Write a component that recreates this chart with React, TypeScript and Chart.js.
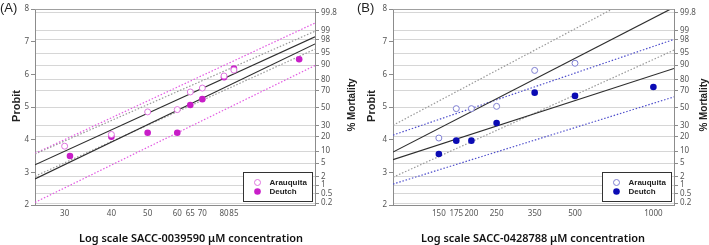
import React, { useEffect, useRef } from "react";
import { Chart, registerables } from "chart.js";

Chart.register(...registerables);

// ---------- Shared right-axis (% Mortality) ticks ----------
const mortLabels = ["99.8", "99", "98", "95", "90", "80", "70", "50", "30", "20", "10", "5", "2", "1", "0.5", "0.2"];
const mortProbit = [7.88, 7.34, 7.07, 6.65, 6.28, 5.84, 5.51, 4.97, 4.43, 4.1, 3.65, 3.28, 2.87, 2.61, 2.35, 2.06];
const probitTicks = [2, 3, 4, 5, 6, 7, 8];

// ---------- Panel A: SACC-0039590 ----------
const xTicksA = [30, 40, 50, 60, 65, 70, 80, 85];
const araXA = [30, 40, 50, 60, 65, 70, 80, 85];
const araYA = [3.8, 4.16, 4.85, 4.92, 5.46, 5.58, 5.95, 6.13];
const deuXA = [31, 40, 50, 60, 65, 70, 80, 85, 127];
const deuYA = [3.5, 4.09, 4.21, 4.21, 5.06, 5.24, 5.91, 6.18, 6.46];
const lineXA = [25, 140];
const araFitA = [3.23, 7.15];
const deuFitA = [2.8, 6.93];
const araUpA = [3.56, 7.32];
const araLoA = [2.88, 6.77];
const deuUpA = [3.58, 7.57];
const deuLoA = [2.08, 6.27];

// ---------- Panel B: SACC-0428788 ----------
const xTicksB = [150, 175, 200, 250, 350, 500, 1000];
const araXB = [150, 175, 200, 250, 350, 500];
const araYB = [4.05, 4.95, 4.95, 5.02, 6.12, 6.34];
const deuXB = [150, 175, 200, 250, 350, 500, 1000];
const deuYB = [3.56, 3.97, 3.97, 4.51, 5.44, 5.34, 5.61];
const lineXB = [100, 1200];
const araFitB = [3.62, 8.05];
const deuFitB = [3.39, 6.18];
const araUpB = [4.44, 9.0];
const araLoB = [2.85, 6.74];
const deuUpB = [4.14, 7.07];
const deuLoB = [2.64, 5.31];

const W = 709;
const H = 245;
const TICK_FONT = { family: "'Noto Sans', sans-serif", size: 8 };
const TICK_COLOR = "#555";
const AXIS_COLOR = "#8c8c8c";

type Spec = {
  tag: string;
  tagX: number;
  xMin: number;
  xMax: number;
  xTicks: number[];
  araX: number[];
  araY: number[];
  deuX: number[];
  deuY: number[];
  lineX: number[];
  araFit: number[];
  deuFit: number[];
  araUp: number[];
  araLo: number[];
  deuUp: number[];
  deuLo: number[];
  araColor: string;
  deuColor: string;
  deuBand: string;
  padLeft: number;
  padRight: number;
  leftW: number;
  rightW: number;
  xTitle: string;
  xTitleCx: number;
  probitCx: number;
  mortCx: number;
};

const pts = (xs: number[], ys: number[]) => xs.map((x, i) => ({ x, y: ys[i] }));

function fitFont(ctx: CanvasRenderingContext2D, text: string, weight: string, family: string, target: number) {
  ctx.font = `${weight} 12px ${family}`;
  const w = ctx.measureText(text).width;
  const size = (12 * target) / w;
  return `${weight} ${size.toFixed(2)}px ${family}`;
}

function drawRotated(ctx: CanvasRenderingContext2D, text: string, cx: number, cy: number, target: number) {
  const w = ctx.measureText(text).width;
  const sx = Math.min(1, target / w);
  ctx.save();
  ctx.translate(cx, cy);
  ctx.rotate(-Math.PI / 2);
  ctx.scale(sx, 1);
  ctx.fillText(text, 0, 0);
  ctx.restore();
}

function makeChart(canvas: HTMLCanvasElement, s: Spec) {
  const deco = {
    id: "deco",
    afterDatasetsDraw(chart: any) {
      const { ctx, chartArea: a } = chart;
      ctx.save();
      // top frame line
      ctx.strokeStyle = "#a0a0a0";
      ctx.lineWidth = 1;
      ctx.beginPath();
      ctx.moveTo(a.left, Math.round(a.top) + 0.5);
      ctx.lineTo(a.right, Math.round(a.top) + 0.5);
      ctx.stroke();

      // legend box
      const bx = Math.round(a.right - 72) + 0.5;
      const by = 172.5;
      const bw = 69;
      const bh = 29;
      ctx.fillStyle = "#ffffff";
      ctx.fillRect(bx, by, bw, bh);
      ctx.strokeStyle = "#333";
      ctx.lineWidth = 1;
      ctx.strokeRect(bx, by, bw, bh);
      const mx = bx + 14;
      const tx = bx + 26;
      const rows = [by + 10, by + 19];
      ctx.beginPath();
      ctx.arc(mx, rows[0], 3, 0, Math.PI * 2);
      ctx.fillStyle = "#fff";
      ctx.fill();
      ctx.strokeStyle = s.araColor;
      ctx.stroke();
      ctx.beginPath();
      ctx.arc(mx, rows[1], 3.3, 0, Math.PI * 2);
      ctx.fillStyle = s.deuColor;
      ctx.fill();
      ctx.fillStyle = "#222";
      ctx.font = "bold 8px 'Liberation Sans', Arial, sans-serif";
      ctx.textBaseline = "middle";
      ctx.textAlign = "left";
      ctx.fillText("Arauquita", tx, rows[0]);
      ctx.fillText("Deutch", tx, rows[1]);

      // panel tag
      ctx.fillStyle = "#222";
      ctx.font = "13px 'Liberation Sans', Arial, sans-serif";
      ctx.textBaseline = "alphabetic";
      ctx.fillText(s.tag, s.tagX, 12);

      // y titles
      ctx.font = "bold 11px 'Liberation Sans', Arial, sans-serif";
      ctx.textAlign = "center";
      ctx.textBaseline = "middle";
      drawRotated(ctx, "Probit", s.probitCx, 106, 33);
      drawRotated(ctx, "% Mortality", s.mortCx, 105, 53);

      // x title
      ctx.fillStyle = "#111";
      ctx.font = fitFont(ctx, s.xTitle, "600", "'Noto Sans', sans-serif", 224);
      ctx.textAlign = "center";
      ctx.textBaseline = "middle";
      ctx.fillText(s.xTitle, s.xTitleCx, 239);
      ctx.restore();
    },
  };

  const lineDs = (ys: number[], color: string, dotted: boolean, width: number) => ({
    data: pts(s.lineX, ys),
    showLine: true,
    pointRadius: 0,
    borderColor: color,
    backgroundColor: color,
    borderWidth: width,
    borderDash: dotted ? [1.5, 1.8] : [],
  });

  return new Chart(canvas, {
    type: "scatter",
    data: {
      datasets: [
        {
          data: pts(s.araX, s.araY),
          pointRadius: 3,
          backgroundColor: "#ffffff",
          borderColor: s.araColor,
          borderWidth: 1,
          showLine: false,
        },
        {
          data: pts(s.deuX, s.deuY),
          pointRadius: 3.3,
          backgroundColor: s.deuColor,
          borderColor: s.deuColor,
          borderWidth: 0,
          showLine: false,
        },
        lineDs(s.araFit, "#2e2e2e", false, 1.2),
        lineDs(s.deuFit, "#2e2e2e", false, 1.2),
        lineDs(s.araUp, "#999999", true, 1.2),
        lineDs(s.araLo, "#999999", true, 1.2),
        lineDs(s.deuUp, s.deuBand, true, 1.2),
        lineDs(s.deuLo, s.deuBand, true, 1.2),
      ] as any,
    },
    options: {
      responsive: false,
      animation: false,
      events: [],
      layout: { padding: { left: s.padLeft, right: s.padRight, top: 9, bottom: 0 } },
      plugins: { legend: { display: false }, tooltip: { enabled: false } },
      scales: {
        x: {
          type: "logarithmic",
          position: "bottom",
          min: s.xMin,
          max: s.xMax,
          afterBuildTicks: (sc: any) => {
            sc.ticks = s.xTicks.map((v) => ({ value: v }));
          },
          afterFit: (sc: any) => {
            sc.height = 40;
          },
          ticks: {
            callback: (v: any) => String(v),
            autoSkip: false,
            maxRotation: 0,
            font: TICK_FONT,
            color: TICK_COLOR,
            padding: 4,
          },
          grid: { display: false, drawTicks: false },
          border: { display: true, color: AXIS_COLOR },
        },
        y: {
          type: "linear",
          position: "left",
          min: 2,
          max: 8,
          afterBuildTicks: (sc: any) => {
            sc.ticks = probitTicks.map((v) => ({ value: v }));
          },
          afterFit: (sc: any) => {
            sc.width = s.leftW;
          },
          ticks: { font: TICK_FONT, color: TICK_COLOR, padding: 2 },
          grid: { drawOnChartArea: false, tickLength: 4, color: AXIS_COLOR },
          border: { color: AXIS_COLOR },
        },
        yR: {
          type: "linear",
          position: "right",
          min: 2,
          max: 8,
          afterBuildTicks: (sc: any) => {
            sc.ticks = mortProbit.map((v) => ({ value: v }));
          },
          afterFit: (sc: any) => {
            sc.width = s.rightW;
          },
          ticks: {
            callback: (_v: any, i: number) => mortLabels[i],
            autoSkip: false,
            font: TICK_FONT,
            color: TICK_COLOR,
            padding: 2,
          },
          grid: { color: "#d6d6d6", tickColor: AXIS_COLOR, tickLength: 4 },
          border: { color: AXIS_COLOR },
        },
      },
    } as any,
    plugins: [deco],
  });
}

const specA: Spec = {
  tag: "(A)",
  tagX: 0,
  xMin: 25,
  xMax: 140,
  xTicks: xTicksA,
  araX: araXA,
  araY: araYA,
  deuX: deuXA,
  deuY: deuYA,
  lineX: lineXA,
  araFit: araFitA,
  deuFit: deuFitA,
  araUp: araUpA,
  araLo: araLoA,
  deuUp: deuUpA,
  deuLo: deuLoA,
  araColor: "#df74df",
  deuColor: "#c81ec8",
  deuBand: "#e25ae2",
  padLeft: 0,
  padRight: W - 315 - 40,
  leftW: 35,
  rightW: 40,
  xTitle: "Log scale SACC-0039590 μM concentration",
  xTitleCx: 191,
  probitCx: 17,
  mortCx: 352,
};

const specB: Spec = {
  tag: "(B)",
  tagX: 357,
  xMin: 100,
  xMax: 1200,
  xTicks: xTicksB,
  araX: araXB,
  araY: araYB,
  deuX: deuXB,
  deuY: deuYB,
  lineX: lineXB,
  araFit: araFitB,
  deuFit: deuFitB,
  araUp: araUpB,
  araLo: araLoB,
  deuUp: deuUpB,
  deuLo: deuLoB,
  araColor: "#7f7fd2",
  deuColor: "#0b0bb4",
  deuBand: "#5050cc",
  padLeft: 393 - 35,
  padRight: 0,
  leftW: 35,
  rightW: W - 674,
  xTitle: "Log scale SACC-0428788 μM concentration",
  xTitleCx: 533,
  probitCx: 372,
  mortCx: 704,
};

export default function App() {
  const refA = useRef<HTMLCanvasElement>(null);
  const refB = useRef<HTMLCanvasElement>(null);
  useEffect(() => {
    const a = makeChart(refA.current!, specA);
    const b = makeChart(refB.current!, specB);
    return () => {
      a.destroy();
      b.destroy();
    };
  }, []);
  const cs: React.CSSProperties = { position: "absolute", left: 0, top: 0, width: W, height: H };
  return (
    <div style={{ position: "fixed", left: 0, top: 0, width: W, height: H, background: "#fff" }}>
      <canvas ref={refA} width={W} height={H} style={cs} />
      <canvas ref={refB} width={W} height={H} style={cs} />
    </div>
  );
}
